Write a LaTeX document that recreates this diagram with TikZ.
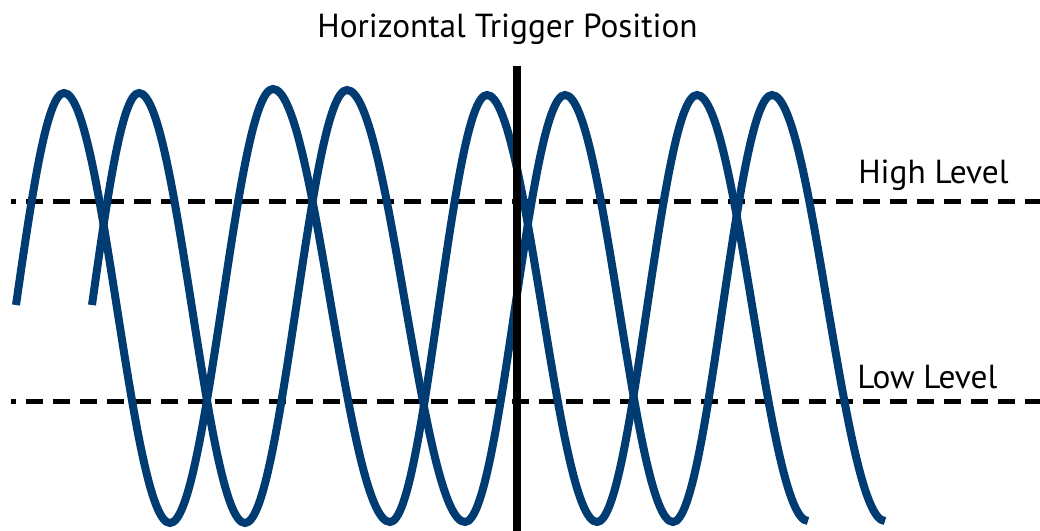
\documentclass[tikz,border=0pt]{standalone}
\usepackage{fontspec}
\setmainfont{PT Sans}
\usepackage{tikz}
\definecolor{waveblue}{RGB}{0,59,113}
\tikzset{wave/.style = {draw = waveblue, line width = 6pt}}
\tikzset{level/.style = {draw = black, line width = 3.6pt, dash pattern = on 12.75pt off 7.5pt, dash phase = 9pt}}
\tikzset{trig/.style = {draw = black, line width = 6pt}}
\tikzset{lbl/.style = {font = \fontsize{25}{30}\selectfont, inner sep = 0pt}}

\begin{document}
\begin{tikzpicture}[x = 0.75pt, y = -0.75pt]
				\useasboundingbox (0, 0) rectangle (1040, 531);

				% the two levels
				\coordinate (hl) at (11, 201.5);
				\coordinate (hr) at (1040, 201.5);
				\coordinate (ll) at (11, 401.5);
				\coordinate (lr) at (1040, 401.5);
				\draw[level] (hl) -- (hr);
				\draw[level] (ll) -- (lr);

				% the two waves
				\draw[wave] (16, 305) sin (64, 93) cos (117, 308) sin (170, 523)
					cos (221.5, 308) sin (273, 89) cos (331.5, 308) sin (390, 522)
					cos (438.5, 308) sin (487, 95) cos (542, 308) sin (597, 522)
					cos (647, 308) sin (697, 95) cos (752.5, 308) sin (808, 521);
				\draw[wave] (92, 305) sin (139, 93) cos (192, 308) sin (245, 523)
					cos (296, 308) sin (347, 90) cos (406, 308) sin (465, 522)
					cos (515, 308) sin (565, 95) cos (619, 308) sin (673, 522)
					cos (722.5, 308) sin (772, 95) cos (828, 308) sin (885, 521);

				% trigger position
				\coordinate (tt) at (517, 66);
				\coordinate (tb) at (517, 531);
				\draw[trig] (tt) -- (tb);

				\node[lbl, anchor = base] (title) at (507.5, 38) {Horizontal Trigger Position};
				\node[lbl, anchor = base west] (high) at (858, 184) {High Level};
				\node[lbl, anchor = base west] (low) at (857, 388) {Low Level};
			\end{tikzpicture}
\end{document}
